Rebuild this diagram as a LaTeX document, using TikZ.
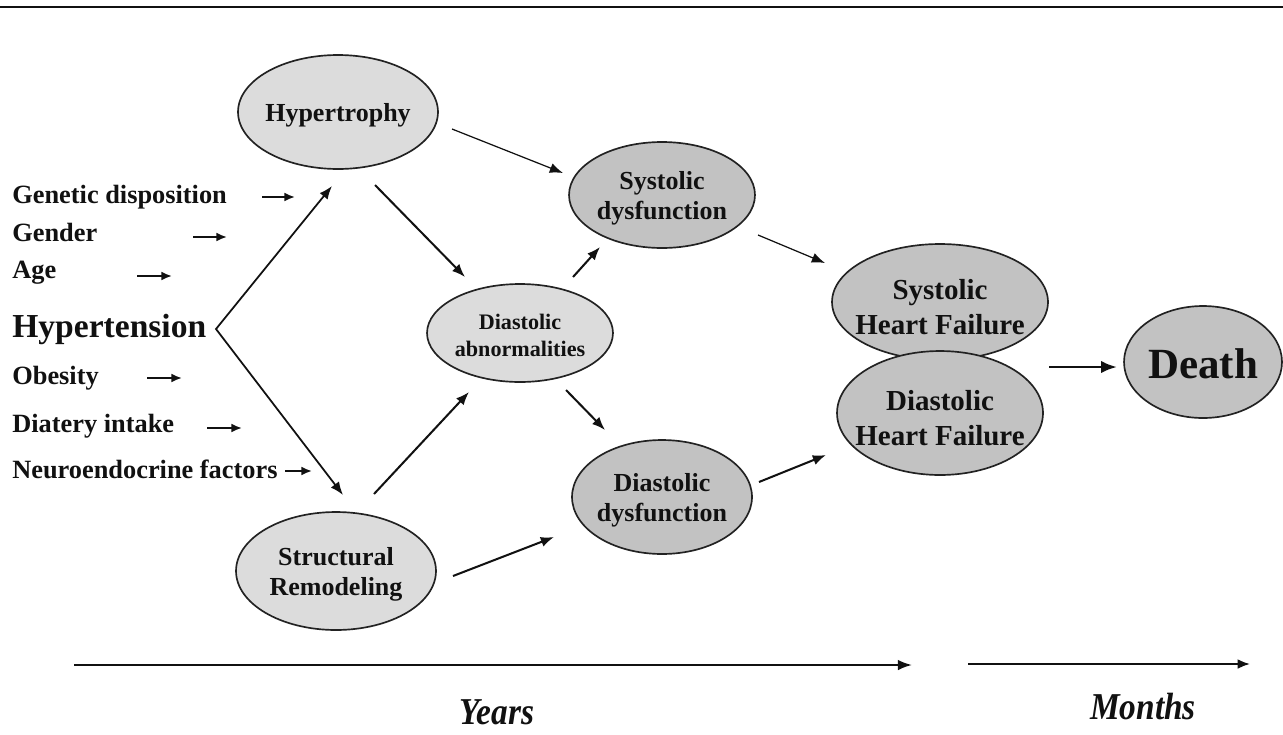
\documentclass[tikz,border=0pt]{standalone}
\usepackage{fontspec}
\setmainfont{Liberation Serif}
\usetikzlibrary{shapes.geometric,arrows.meta}
\definecolor{lightg}{HTML}{DCDCDC}
\definecolor{darkg}{HTML}{C2C2C2}
\definecolor{edge}{HTML}{222222}
\definecolor{ink}{HTML}{111111}
\begin{document}
\begin{tikzpicture}[x=0.02cm,y=-0.02cm,
  ell/.style={ellipse,draw=edge,line width=0.95pt,inner sep=0pt},
  lightell/.style={ell,fill=lightg},
  darkell/.style={ell,fill=darkg},
  side/.style={anchor=base west,inner sep=0pt,font=\fontsize{15}{18}\selectfont\bfseries,text=ink},
  lab/.style={font=\fontsize{14.8}{17.2}\selectfont\bfseries,align=center,text=ink,inner sep=0pt,yshift=-0.07cm},
  labsmall/.style={font=\fontsize{12.6}{15.4}\selectfont\bfseries,align=center,text=ink,inner sep=0pt,yshift=-0.05cm},
  labhf/.style={font=\fontsize{16.5}{19.8}\selectfont\bfseries,align=center,text=ink,inner sep=0pt,yshift=-0.1cm},
  labdeath/.style={font=\fontsize{24.5}{28}\selectfont\bfseries,align=center,text=ink,inner sep=0pt,yshift=-0.04cm},
  timelab/.style={font=\fontsize{20}{24}\selectfont\bfseries\itshape,text=ink,inner sep=0pt,anchor=base,yscale=1.08,xscale=0.95},
  arr/.style={-{Latex[length=7.5pt,width=5.8pt]},line width=1.15pt,draw=ink},
  thinarr/.style={arr,line width=0.7pt},
  smallarr/.style={-{Latex[length=6pt,width=5pt]},line width=1.1pt,draw=ink},
]
\useasboundingbox (0,0) rectangle (1283,734);
\fill[white] (0,0) rectangle (1283,734);
% top rule
\coordinate (ruleL) at (0,7);
\coordinate (ruleR) at (1283,7);
\draw[line width=1.5pt,draw=ink] (ruleL) -- (ruleR);

% ellipses
\node[lightell,minimum width=4cm,minimum height=2.28cm,label={[lab]center:Hypertrophy}] (hyp) at (338,112) {};
\node[darkell,minimum width=3.72cm,minimum height=2.12cm,label={[lab]center:Systolic\\dysfunction}] (sysd) at (662,195) {};
\node[lightell,minimum width=3.72cm,minimum height=1.96cm,label={[labsmall]center:Diastolic\\abnormalities}] (dabn) at (520,333) {};
\node[lightell,minimum width=4cm,minimum height=2.36cm,label={[lab]center:Structural\\Remodeling}] (srem) at (336,571) {};
\node[darkell,minimum width=3.6cm,minimum height=2.28cm,label={[lab]center:Diastolic\\dysfunction}] (dysd) at (662,497) {};
\node[darkell,minimum width=4.32cm,minimum height=2.32cm,label={[labhf]center:Systolic\\Heart Failure}] (shf) at (940,302) {};
\node[darkell,minimum width=4.12cm,minimum height=2.48cm,label={[labhf]center:Diastolic\\Heart Failure}] (dhf) at (940,413) {};
\node[darkell,minimum width=3.16cm,minimum height=2.24cm,label={[labdeath]center:Death}] (death) at (1203,362) {};

% side labels
\node[side] (gen) at (12,203) {Genetic disposition};
\node[side] (gnd) at (12,241) {Gender};
\node[side] (age) at (12,278) {Age};
\node[side,font=\fontsize{19.1}{22}\selectfont\bfseries] (htn) at (12,337) {Hypertension};
\node[side] (obe) at (12,384) {Obesity};
\node[side] (diet) at (12,432) {Diatery intake};
\node[side] (neu) at (12,478) {Neuroendocrine factors};

% small factor arrows
\coordinate (genS) at (262,197); \coordinate (genE) at (295,197);
\coordinate (gndS) at (193,237); \coordinate (gndE) at (227,237);
\coordinate (ageS) at (137,276); \coordinate (ageE) at (172,276);
\coordinate (obeS) at (147,378); \coordinate (obeE) at (182,378);
\coordinate (dietS) at (207,428); \coordinate (dietE) at (242,428);
\coordinate (neuS) at (285,471); \coordinate (neuE) at (312,471);
\draw[smallarr] (genS) -- (genE);
\draw[smallarr] (gndS) -- (gndE);
\draw[smallarr] (ageS) -- (ageE);
\draw[smallarr] (obeS) -- (obeE);
\draw[smallarr] (dietS) -- (dietE);
\draw[smallarr] (neuS) -- (neuE);

% hypertension fork
\coordinate (htnV) at (216,329);
\coordinate (hypIn) at (332,186);
\coordinate (sremIn) at (343,495);
\draw[arr,{Latex[length=7.5pt,width=5.8pt]}-{Latex[length=7.5pt,width=5.8pt]},line join=miter,line width=1pt] (hypIn) -- (htnV) -- (sremIn);

% main connectors
\coordinate (a1) at (452,129); \coordinate (b1) at (563,173);
\draw[thinarr] (a1) -- (b1); % hyp -> sysd
\coordinate (a2) at (375,185); \coordinate (b2) at (465,277);
\draw[arr] (a2) -- (b2); % hyp -> dabn
\coordinate (a3) at (573,277); \coordinate (b3) at (600,247);
\draw[arr] (a3) -- (b3); % dabn -> sysd
\coordinate (a4) at (374,494); \coordinate (b4) at (469,392);
\draw[arr] (a4) -- (b4); % srem -> dabn
\coordinate (a5) at (566,390); \coordinate (b5) at (605,430);
\draw[arr] (a5) -- (b5); % dabn -> dysd
\coordinate (a6) at (453,576); \coordinate (b6) at (554,537);
\draw[arr] (a6) -- (b6); % srem -> dysd
\coordinate (a7) at (758,235); \coordinate (b7) at (825,263);
\draw[thinarr] (a7) -- (b7); % sysd -> shf
\coordinate (a8) at (759,482); \coordinate (b8) at (826,455);
\draw[arr] (a8) -- (b8); % dysd -> dhf
\coordinate (a9) at (1049,367); \coordinate (b9) at (1117,367);
\draw[arr,line width=1.6pt,-{Latex[length=9pt,width=7pt]}] (a9) -- (b9); % -> death

% time axes
\coordinate (yrS) at (74,665); \coordinate (yrE) at (912,665);
\coordinate (moS) at (968,664); \coordinate (moE) at (1250,664);
\draw[arr,line width=1.2pt,-{Latex[length=8pt,width=6pt]}] (yrS) -- (yrE);
\draw[arr,line width=1.1pt,-{Latex[length=7pt,width=5.5pt]}] (moS) -- (moE);
\node[timelab] (years) at (497,724) {Years};
\node[timelab] (months) at (1143,719) {Months};
\end{tikzpicture}
\end{document}
